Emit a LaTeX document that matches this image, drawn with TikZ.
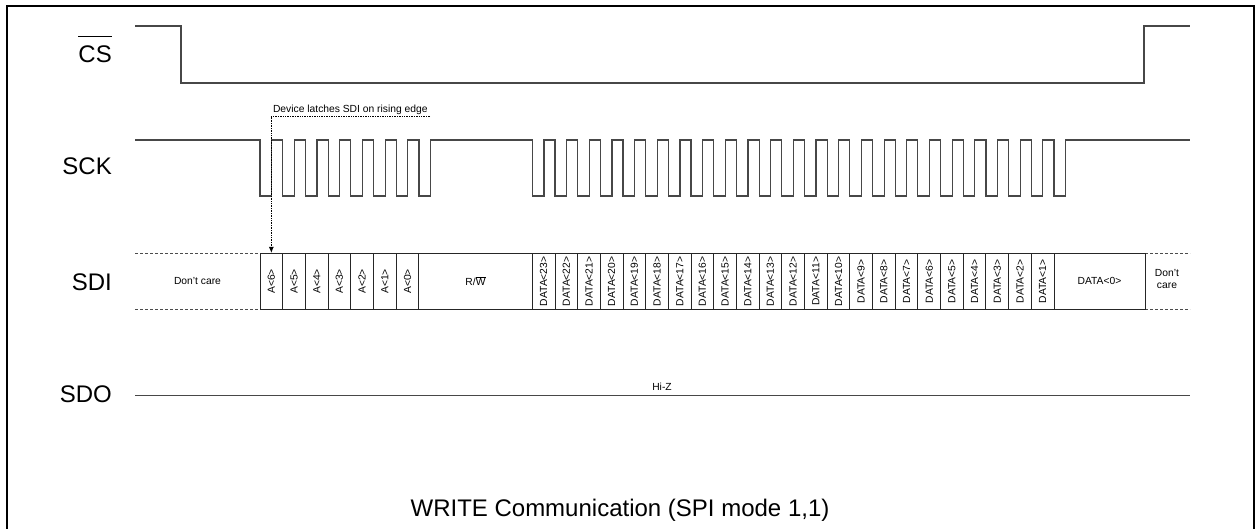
\documentclass[tikz,border=0pt]{standalone}
\usepackage{fontspec}
\setmainfont{Liberation Sans}
\usetikzlibrary{arrows.meta}
\tikzset{
  sig/.style={draw=black!72, line width=1.2pt, line join=miter},
  lbl/.style={anchor=base east, inner sep=0pt, font=\fontsize{24}{28}\selectfont},
  small/.style={font=\fontsize{10.3}{12.5}\selectfont},
  bit/.style={draw=black!85, line width=0.9pt, rotate=90, minimum width=56pt, minimum height=22.7pt, inner sep=0pt, small},
  wbox/.style={draw=black!85, line width=0.9pt, minimum height=56pt, inner sep=0pt, small},
  dc/.style={draw=black!70, line width=0.9pt, dash pattern=on 3pt off 2pt},
  latch/.style={densely dotted, line width=0.7pt, -{Latex[length=6pt,width=5pt]}},
}
\begin{document}
\begin{tikzpicture}[x=1pt,y=-1pt]
\useasboundingbox (0,0) rectangle (1256,529);
% frame
\draw[line width=2.4pt] (7,535) -- (7,6) -- (1254,6) -- (1254,535);
% labels
\node[lbl] (cs) at (112,62.3) {CS};
\draw[line width=1.1pt] ([yshift=9pt]cs.north west) -- ([yshift=9pt]cs.north east);
\node[lbl] (sck) at (112,175) {SCK};
\node[lbl] (sdi) at (112,290.5) {SDI};
\node[lbl] (sdo) at (112,402.5) {SDO};
% CS
\draw[sig] (135,26) -- (181,26) -- (181,83) -- (1144,83) -- (1144,26) -- (1190,26);
% SCK
\draw[sig] (135,140)
  foreach \k in {0,...,7} { -- ({260+22.7*\k},140) -- ++(0,56) -- ++(11.6,0) -- ++(0,-56) }
  foreach \k in {0,...,23} { -- ({532.3+22.68*\k},140) -- ++(0,56) -- ++(11.6,0) -- ++(0,-56) }
  -- (1190,140);
% SDI
\draw[dc] (135,253.3) -- (260,253.3);
\draw[dc] (135,309.3) -- (260,309.3);
\draw[dc] (1145,253.3) -- (1190,253.3);
\draw[dc] (1145,309.3) -- (1190,309.3);
\node[small] (dcl) at (197.5,281.3) {Don't care};
\node[small, align=center] (dcr) at (1167,279) {Don't\\care};
\foreach \k/\lab in {0/6,1/5,2/4,3/3,4/2,5/1,6/0}
  \node[bit] (a\lab) at ({260+22.7*\k+11.35},281.3) {A<\lab>};
\node[wbox, minimum width=113.6pt] (rw) at (475.5,281.3) {R/$\overline{\hbox{W}}$};
\foreach \k in {0,...,22} {
  \pgfmathtruncatemacro\n{23-\k}
  \node[bit, minimum height=22.68pt] (d\n) at ({532.3+22.68*\k+11.34},281.3) {DATA<\n>};
}
\node[wbox, minimum width=91pt] (d0) at (1099.5,281.3) {DATA<0>};
% latch annotation
\coordinate (lend) at (430,116.7);
\coordinate (lcorner) at (a6.east |- lend);
\draw[latch] (lend) -- (lcorner) -- (a6.east);
\node[small, anchor=south west, inner sep=1.5pt] (ltxt) at (lcorner) {Device latches SDI on rising edge};
% SDO
\draw[sig] (135,395.5) -- (1190,395.5);
\node[small] (hiz) at (662,386.5) {Hi-Z};
% title
\node[anchor=base, inner sep=0pt, font=\fontsize{24}{28}\selectfont] (title) at (620,516.7) {WRITE Communication (SPI mode 1,1)};
\end{tikzpicture}
\end{document}
